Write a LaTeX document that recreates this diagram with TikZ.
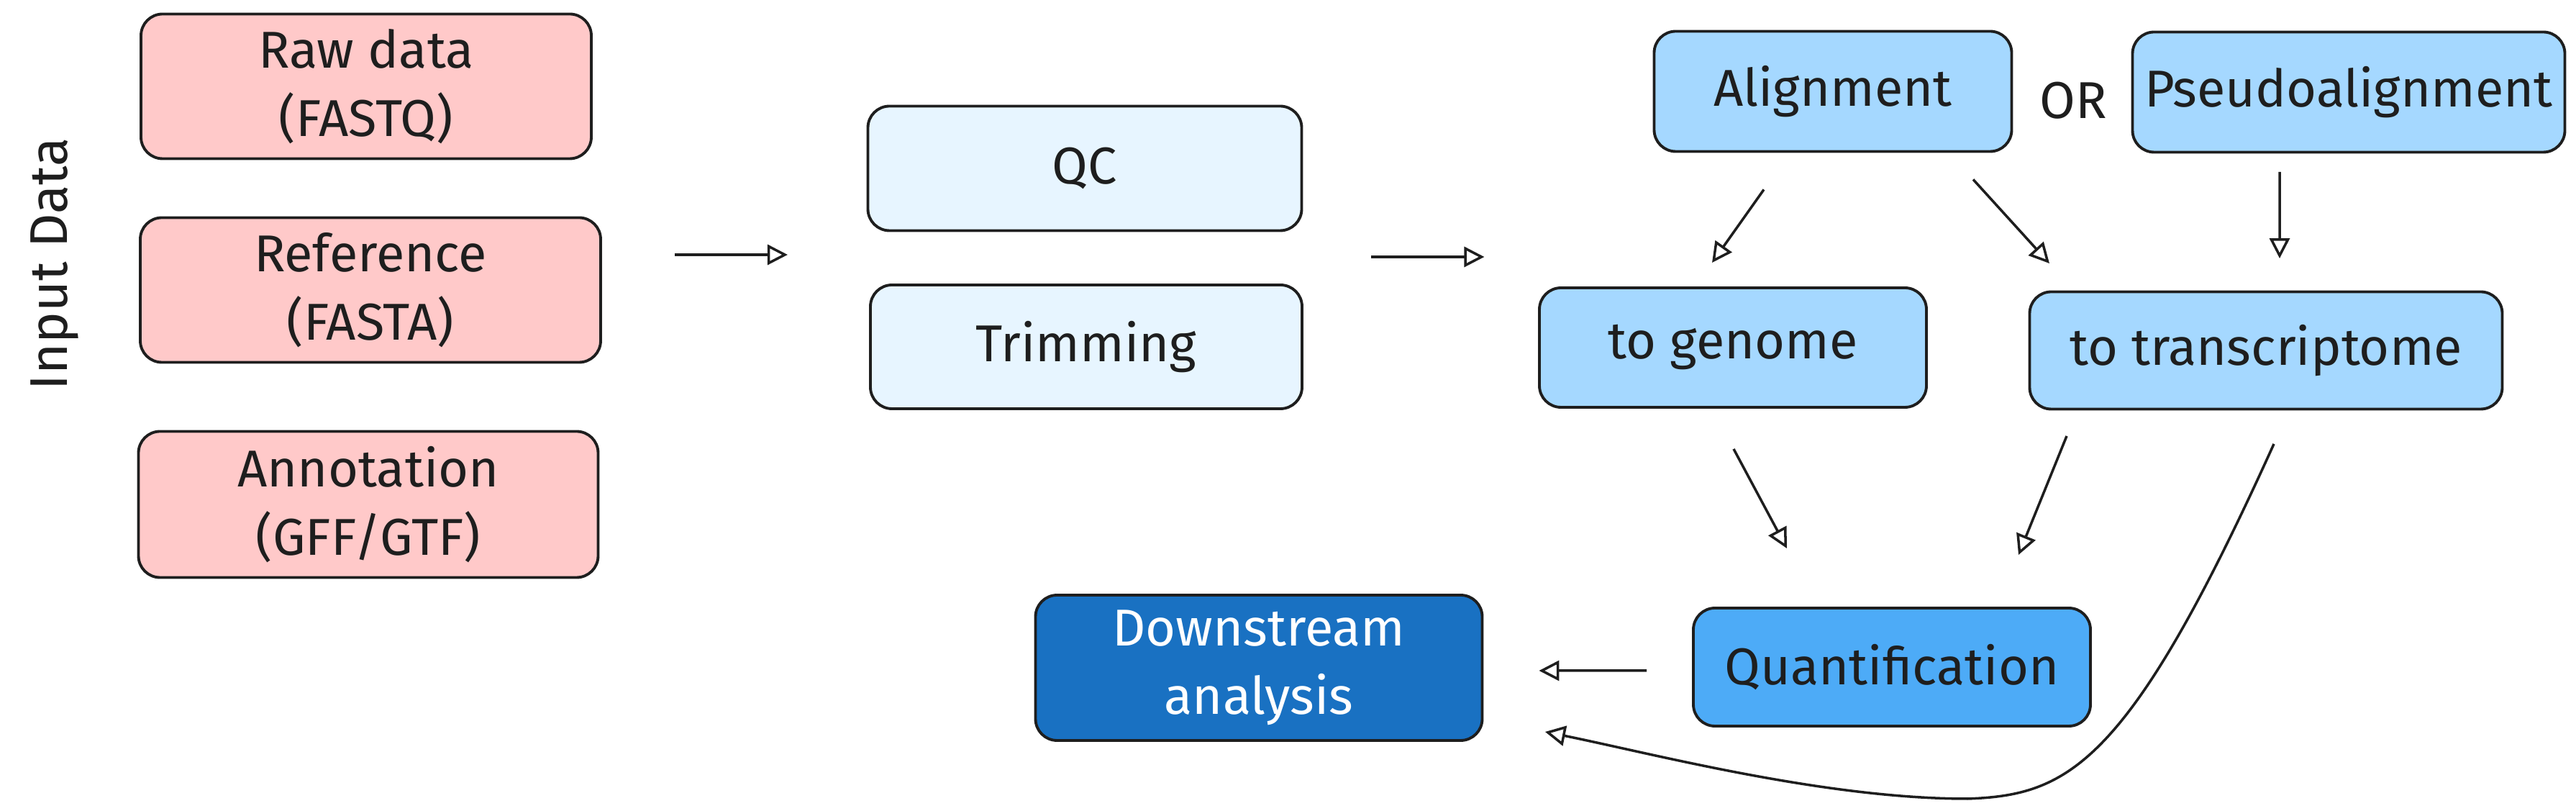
\documentclass[tikz,border=0pt]{standalone}
\usepackage{fontspec}
\setmainfont{Fira Sans}
\usetikzlibrary{arrows.meta,calc,positioning}

\definecolor{ink}{HTML}{1E1E1E}
\definecolor{inputfill}{HTML}{FFC9C9}
\definecolor{prepfill}{HTML}{E7F5FF}
\definecolor{mapfill}{HTML}{A5D8FF}
\definecolor{quantfill}{HTML}{4DABF7}
\definecolor{downfill}{HTML}{1971C2}

\tikzset{
  box/.style={draw=ink,line width=1.1pt,rounded corners=0.3cm,align=center,
    font=\fontsize{20.5}{27}\selectfont,text=ink,inner sep=0pt},
  arr/.style={draw=ink,line width=1pt,-{Triangle[open,length=0.28cm,width=0.28cm]}}
}

\begin{document}
\begin{tikzpicture}
\useasboundingbox (0,0) rectangle (35.81,-11.27);
% input data
\node[box,fill=inputfill,minimum width=6.26cm,minimum height=2.01cm] (raw) at (5.09,-1.20) {Raw data\\(FASTQ)};
\node[box,fill=inputfill,minimum width=6.40cm,minimum height=2.01cm] (ref) at (5.15,-4.03) {Reference\\(FASTA)};
\node[box,fill=inputfill,minimum width=6.39cm,minimum height=2.03cm] (ann) at (5.12,-7.01) {Annotation\\(GFF/GTF)};
\node[font=\fontsize{21}{27}\selectfont,text=ink,rotate=90] (inlabel) at (0.76,-3.67) {Input Data};
% preprocessing
\node[box,fill=prepfill,minimum width=6.03cm,minimum height=1.73cm] (qc) at (15.08,-2.34) {QC};
\node[box,fill=prepfill,minimum width=6.00cm,minimum height=1.72cm] (trim) at (15.10,-4.82) {Trimming};
% mapping
\node[box,fill=mapfill,minimum width=4.97cm,minimum height=1.67cm] (align) at (25.48,-1.27) {Alignment};
\node[box,fill=mapfill,minimum width=6.01cm,minimum height=1.67cm] (pseudo) at (32.65,-1.28) {Pseudoalignment};
\node[font=\fontsize{20.5}{27}\selectfont,text=ink] (or) at (28.82,-1.40) {OR};
\node[box,fill=mapfill,minimum width=5.38cm,minimum height=1.66cm] (genome) at (24.09,-4.83) {to genome};
\node[box,fill=mapfill,minimum width=6.57cm,minimum height=1.63cm] (transc) at (31.50,-4.87) {to transcriptome};
% results
\node[box,fill=quantfill,minimum width=5.52cm,minimum height=1.64cm] (quant) at (26.30,-9.27) {Quantification};
\node[box,fill=downfill,text=white,minimum width=6.21cm,minimum height=2.02cm] (down) at (17.50,-9.28) {Downstream\\analysis};
% arrows
\draw[arr] ([shift={(1.01,0.49)}]ref.east) -- ++(1.57,0);
\draw[arr] ([shift={(0.95,-1.23)}]qc.east) -- ++(1.57,0);
\draw[arr] ([shift={(-0.96,-0.51)}]align.south) -- ([shift={(-0.29,0.33)}]genome.north);
\draw[arr] ([shift={(1.95,-0.37)}]align.south) -- ([shift={(-3.01,0.375)}]transc.north);
\draw[arr] ([shift={(-0.96,-0.255)}]pseudo.south) -- ([shift={(0.19,0.445)}]transc.north);
\draw[arr] ([shift={(0.01,-0.56)}]genome.south) -- ([shift={(-1.46,0.81)}]quant.north);
\draw[arr] ([shift={(-2.77,-0.355)}]transc.south) -- ([shift={(1.76,0.72)}]quant.north);
\draw[arr] ([shift={(-0.63,-0.05)}]quant.west) -- ([shift={(0.77,-0.04)}]down.east);
% bypass from transcriptome to downstream
\coordinate (loopbot) at (27.35,-11.10);
\draw[arr] ([shift={(0.11,-0.465)}]transc.south) .. controls (29.585,-10.65) and (28.75,-11.05) .. (loopbot)
  .. controls (25.35,-11.10) and (22.96,-10.47) .. ([shift={(0.855,-0.89)}]down.east);
\end{tikzpicture}
\end{document}
